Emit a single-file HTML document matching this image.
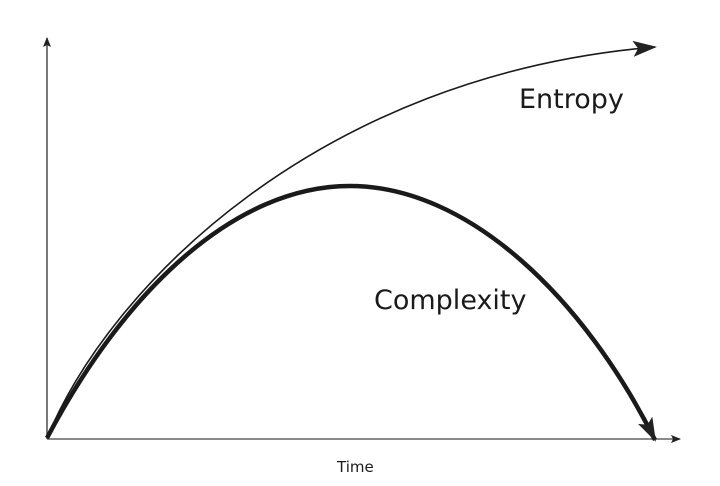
<!DOCTYPE html>
<html><head><meta charset="utf-8"><style>
html,body{margin:0;padding:0;background:#fff;}
svg{display:block;}
text{font-family:"DejaVu Sans","Liberation Sans",sans-serif;fill:#1a1a1a;}
</style></head><body>
<svg width="720" height="486" viewBox="0 0 720 486" xmlns="http://www.w3.org/2000/svg">
<defs>
<marker id="a" markerWidth="10" markerHeight="8" refX="9" refY="4" orient="auto" markerUnits="userSpaceOnUse">
<path d="M0,0 L10,4 L0,8 L2,4 Z" fill="#222"/></marker>
<marker id="b" markerWidth="24" markerHeight="16" refX="22" refY="8" orient="auto" markerUnits="userSpaceOnUse">
<path d="M0,0 L24,8 L0,16 L5,8 Z" fill="#222"/></marker>
</defs>
<line x1="47" y1="439" x2="47" y2="38" stroke="#333" stroke-width="1.3" marker-end="url(#a)"/>
<line x1="47" y1="439" x2="680" y2="439" stroke="#444" stroke-width="1.3" marker-end="url(#a)"/>
<path d="M47,438 C110,285 320,75 655,47" fill="none" stroke="#1a1a1a" stroke-width="1.6" marker-end="url(#b)"/>
<path d="M47,438 C125,290 235,186 350,186 C470,186 585,300 655,440" fill="none" stroke="#1a1a1a" stroke-width="4.5" marker-end="url(#b)"/>
<text x="519" y="108" font-size="27">Entropy</text>
<text x="374" y="309" font-size="27">Complexity</text>
<text x="337" y="472" font-size="15">Time</text>
</svg>
</body></html>
